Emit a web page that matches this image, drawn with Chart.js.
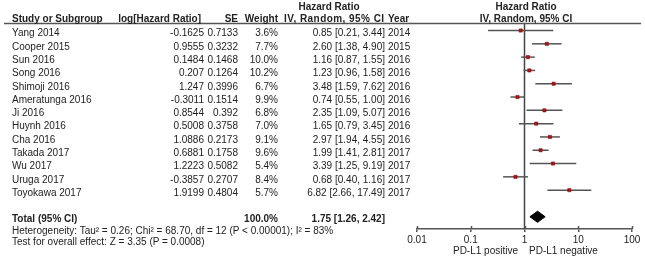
<!DOCTYPE html>
<html>
<head>
<meta charset="utf-8">
<script src="https://cdn.jsdelivr.net/npm/chart.js@4/dist/chart.umd.min.js"></script>
<style>
  html, body { margin:0; padding:0; background:#fff; }
  #wrap { position:relative; width:645px; height:259px; overflow:hidden; font-family:"Liberation Sans", Arial, sans-serif; font-size:10px; color:#222; }
  #c { position:absolute; left:0; top:0; }
  .t { position:absolute; white-space:nowrap; line-height:12px; }
  .b { font-weight:bold; }
  .r { text-align:right; }
</style>
</head>
<body>
<div id="wrap">
  <canvas id="c" width="645" height="259"></canvas>
</div>
<script>
// ---- data ----
const studies = ["Yang 2014","Cooper 2015","Sun 2016","Song 2016","Shimoji 2016","Ameratunga 2016","Ji 2016","Huynh 2016","Cha 2016","Takada 2017","Wu 2017","Uruga 2017","Toyokawa 2017"];
const logHR = ["-0.1625","0.9555","0.1484","0.207","1.247","-0.3011","0.8544","0.5008","1.0886","0.6881","1.2223","-0.3857","1.9199"];
const seVals = ["0.7133","0.3232","0.1468","0.1264","0.3996","0.1514","0.392","0.3758","0.2173","0.1758","0.5082","0.2707","0.4804"];
const weights = [3.6,7.7,10.0,10.2,6.7,9.9,6.8,7.0,9.1,9.6,5.4,8.4,5.7];
const hr = [0.85,2.60,1.16,1.23,3.48,0.74,2.35,1.65,2.97,1.99,3.39,0.68,6.82];
const lo = [0.21,1.38,0.87,0.96,1.59,0.55,1.09,0.79,1.94,1.41,1.25,0.40,2.66];
const hi = [3.44,4.90,1.55,1.58,7.62,1.00,5.07,3.45,4.55,2.81,9.19,1.16,17.49];
const years = [2014,2015,2016,2016,2016,2016,2016,2016,2016,2017,2017,2017,2017];
const totalHR = 1.75, totalLo = 1.26, totalHi = 2.42;
const totalRow = 14;
const xTicks = [0.01,0.1,1,10,100];
const heterogeneity = "Heterogeneity: Tau\u00B2 = 0.26; Chi\u00B2 = 68.70, df = 12 (P < 0.00001); I\u00B2 = 83%";
const overallTest = "Test for overall effect: Z = 3.35 (P = 0.0008)";
const favourLeft = "PD-L1 positive", favourRight = "PD-L1 negative";

// ---- text table (HTML) ----
const wrap = document.getElementById('wrap');
function txt(s, opts) {
  const d = document.createElement('div');
  d.className = 't' + (opts.bold ? ' b' : '') + (opts.right !== undefined ? ' r' : '');
  d.textContent = s;
  d.style.top = (opts.y - 6) + 'px';
  if (opts.right !== undefined) d.style.right = (645 - opts.right) + 'px';
  if (opts.left !== undefined) d.style.left = opts.left + 'px';
  if (opts.center !== undefined) { d.style.left = (opts.center - 100) + 'px'; d.style.width = '200px'; d.style.textAlign = 'center'; }
  if (opts.ls) d.style.letterSpacing = opts.ls + 'px';
  wrap.appendChild(d);
}
const rowY = i => 33.3 + 13.3 * i;
// headers
txt("Hazard Ratio", {bold:1, center:329, y:7});
txt("Study or Subgroup", {bold:1, left:12, y:19});
txt("log[Hazard Ratio]", {bold:1, right:201, y:19});
txt("SE", {bold:1, right:238, y:19});
txt("Weight", {bold:1, right:278, y:19});
txt("IV, Random, 95% CI", {bold:1, left:284, y:19, ls:0.45});
txt("Year", {bold:1, left:388, y:19});
txt("Hazard Ratio", {bold:1, center:526, y:7});
txt("IV, Random, 95% CI", {bold:1, center:526, y:19});
studies.forEach((s, i) => {
  const y = rowY(i);
  txt(s, {left:12, y});
  txt(logHR[i], {right:204, y});
  txt(seVals[i], {right:238, y});
  txt(weights[i].toFixed(1) + "%", {right:278, y});
  txt(hr[i].toFixed(2) + " [" + lo[i].toFixed(2) + ", " + hi[i].toFixed(2) + "]", {right:385, y});
  txt(String(years[i]), {left:388, y});
});
txt("Total (95% CI)", {bold:1, left:12, y:219});
txt("100.0%", {bold:1, right:278, y:219});
txt(totalHR.toFixed(2) + " [" + totalLo.toFixed(2) + ", " + totalHi.toFixed(2) + "]", {bold:1, right:385, y:219});
txt(heterogeneity, {left:12, y:231});
txt(overallTest, {left:12, y:242});
txt(favourLeft, {right:518, y:251});
txt(favourRight, {left:529, y:251});

// ---- chart ----
const lineCol = '#555';
const datasets = [];
// reference line at HR = 1
datasets.push({ type:'line', data:[{x:1,y:-0.49},{x:1,y:14.92}], borderColor:'#444', borderWidth:1.5, pointRadius:0, order:3 });
// whiskers
studies.forEach((s, i) => {
  datasets.push({ type:'line', data:[{x:lo[i],y:i},{x:hi[i],y:i}], borderColor:lineCol, borderWidth:1.5, pointRadius:0, order:2 });
});
// point estimates
datasets.push({ type:'scatter', data: hr.map((v,i)=>({x:v,y:i})), pointStyle:'rect', pointRadius:2.3, backgroundColor:'#b3121b', borderColor:'#6e0b0b', borderWidth:0.5, order:1 });
// total diamond
datasets.push({ type:'line', data:[{x:totalLo,y:totalRow},{x:totalHR,y:totalRow-0.42},{x:totalHi,y:totalRow},{x:totalHR,y:totalRow+0.42},{x:totalLo,y:totalRow}],
  borderColor:'#000', borderWidth:1, backgroundColor:'#000', fill:'shape', pointRadius:0, tension:0, order:1 });

const upTicks = {
  id:'upTicks',
  afterDraw(chart) {
    const sx = chart.scales.x, ctx = chart.ctx;
    ctx.save(); ctx.strokeStyle = lineCol; ctx.lineWidth = 1.5;
    xTicks.forEach(v => { const p = Math.round(sx.getPixelForValue(v)) + 0.5; ctx.beginPath(); ctx.moveTo(p, sx.top - 3); ctx.lineTo(p, sx.top); ctx.stroke(); });
    // header underline
    ctx.beginPath(); ctx.moveTo(4, 23.5); ctx.lineTo(641, 23.5); ctx.stroke();
    ctx.restore();
  }
};

new Chart(document.getElementById('c'), {
  type:'scatter',
  data:{ datasets },
  options:{
    responsive:false, animation:false, events:[],
    layout:{ padding:{ left:417, right:13, top:24, bottom:0 } },
    plugins:{ legend:{display:false}, tooltip:{enabled:false} },
    scales:{
      x:{ type:'logarithmic', min:0.01, max:100,
          afterBuildTicks: s => { s.ticks = xTicks.map(v => ({value:v})); },
          afterFit: s => { s.height = 30; },
          ticks:{ autoSkip:false, maxRotation:0, padding:2, color:'#222', font:{family:'"Liberation Sans", Arial, sans-serif', size:10},
                  callback: v => String(v) },
          grid:{ drawOnChartArea:false, drawTicks:true, tickLength:3, color:lineCol, lineWidth:1.5 },
          border:{ display:true, color:lineCol, width:1.5 } },
      y:{ type:'linear', reverse:true, min:-0.49, max:14.92, display:false }
    }
  },
  plugins:[upTicks]
});
</script>
</body>
</html>
